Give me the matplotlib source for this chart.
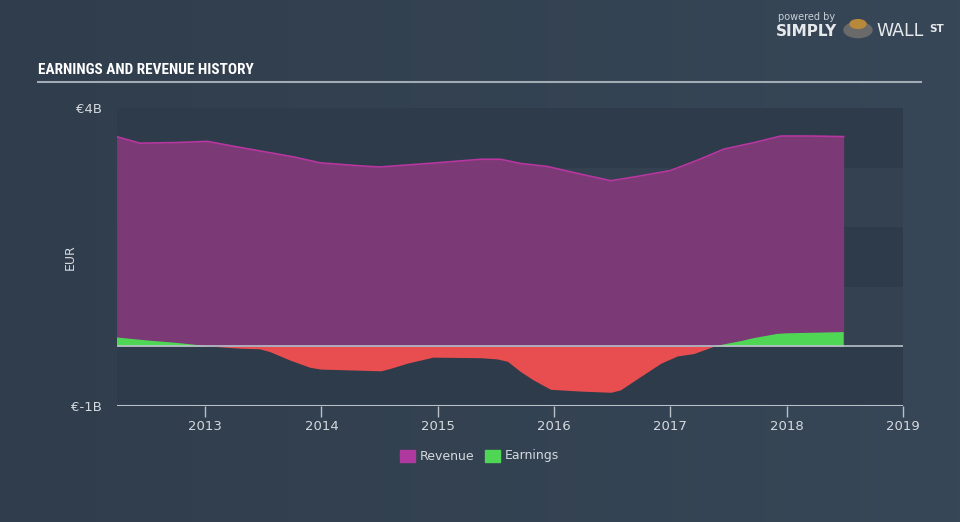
import matplotlib
matplotlib.use("Agg")
import matplotlib.pyplot as plt
import numpy as np
from matplotlib.patches import Rectangle, Circle
from matplotlib.colors import LinearSegmentedColormap
from matplotlib import font_manager

# ---- data (EUR billions) ----
rev_years = [2012.24, 2012.44, 2012.75, 2013.02, 2013.24, 2013.5, 2013.76, 2013.99, 2014.33,
             2014.5, 2014.99, 2015.37, 2015.54, 2015.71, 2015.94, 2016.23, 2016.49, 2016.74,
             2017.0, 2017.24, 2017.46, 2017.72, 2017.95, 2018.2, 2018.49]
revenue = [3.52, 3.41, 3.42, 3.44, 3.36, 3.27, 3.18, 3.08, 3.03,
           3.01, 3.08, 3.14, 3.14, 3.07, 3.02, 2.89, 2.78, 2.86,
           2.95, 3.13, 3.31, 3.42, 3.53, 3.53, 3.52]
earn_years = [2012.24, 2012.5, 2012.75, 2013.0, 2013.3, 2013.47, 2013.56, 2013.73, 2013.9,
              2013.99, 2014.51, 2014.59, 2014.74, 2014.96, 2015.37, 2015.51, 2015.6, 2015.71,
              2015.82, 2015.97, 2016.23, 2016.49, 2016.57, 2016.74, 2016.92, 2017.06, 2017.2,
              2017.37, 2017.61, 2017.72, 2017.92, 2018.0, 2018.49]
earnings = [0.15, 0.10, 0.06, 0.01, -0.03, -0.04, -0.09, -0.23, -0.35,
            -0.38, -0.41, -0.37, -0.28, -0.18, -0.19, -0.21, -0.25, -0.42,
            -0.56, -0.72, -0.75, -0.77, -0.73, -0.51, -0.28, -0.16, -0.12,
            0.0, 0.09, 0.14, 0.21, 0.22, 0.24]
xticks = [2013, 2014, 2015, 2016, 2017, 2018, 2019]
ytick_vals = [4, -1]
ytick_labels = ["€4B", "€-1B"]

REV_FILL = "#7b3a76"
REV_LINE = "#b8369f"
GREEN = "#4fd655"
RED = "#e84e50"
TXT = "#d4d9de"

avail = {f.name for f in font_manager.fontManager.ttflist}
title_family = next((f for f in ["Liberation Sans Narrow", "DejaVu Sans Condensed", "Roboto Condensed"]
                     if f in avail), "DejaVu Sans")

fig = plt.figure(figsize=(9.6, 5.22), dpi=100)
bg = fig.add_axes([0, 0, 1, 1], zorder=-10)
grad = np.linspace(0, 1, 256)[None, :]
cmap = LinearSegmentedColormap.from_list("bg", ["#303d4c", "#374757"])
bg.imshow(grad, aspect="auto", cmap=cmap, extent=[0, 1, 0, 1])
bg.set_axis_off()

ax = fig.add_axes([117/960, 116/522, 786/960, 298/522])
ax.set_xlim(2012.243, 2019.0)
ax.set_ylim(-1, 4)
ax.set_facecolor("none")
for s in ax.spines.values():
    s.set_visible(False)

band_cols = ["#2e3b4a", "#334150", "#2e3b4a", "#334150", "#2e3b4a"]
for i, lo in enumerate([3, 2, 1, 0, -1]):
    ax.axhspan(lo, lo + 1, color=band_cols[i], zorder=0, lw=0)

ry = np.array(rev_years)
rv = np.array(revenue)
ey = np.array(earn_years)
er = np.array(earnings)
ax.fill_between(ry, 0, rv, color=REV_FILL, lw=0, zorder=2)
ax.plot(ry, rv, color=REV_LINE, lw=1.2, zorder=3)
ax.fill_between(ey, 0, er, where=er >= 0, interpolate=True, color=GREEN, lw=0, zorder=4)
ax.fill_between(ey, 0, er, where=er <= 0, interpolate=True, color=RED, lw=0, zorder=4)
ax.axhline(0, color="#b9c0c8", lw=1.2, zorder=5)
ax.axhline(-1, color="#b9c0c8", lw=1.5, zorder=5)

ax.set_xticks(xticks)
ax.set_xticklabels([str(x) for x in xticks])
ax.tick_params(axis="x", colors="#b9c0c8", length=8, width=1, labelcolor=TXT, labelsize=9.5, pad=2)
ax.set_yticks(ytick_vals)
ax.set_yticklabels(ytick_labels)
ax.tick_params(axis="y", length=0, labelcolor=TXT, labelsize=9.5, pad=11)
ax.set_ylabel("EUR", color=TXT, fontsize=9)
ax.yaxis.set_label_coords(-0.051, 0.5)

fig.text(38/960, 1 - 74/522, "EARNINGS AND REVENUE HISTORY", color="white",
         fontsize=11, fontweight="bold", fontstretch="condensed",
         family=title_family, va="baseline", ha="left")
fig.add_artist(plt.Line2D([38/960, 921/960], [1 - 82/522, 1 - 82/522],
                          color="#a3abb4", lw=1.5))

fig.add_artist(Rectangle((400/960, 1 - 462/522), 15/960, 12/522, color="#b0399f", transform=fig.transFigure))
fig.text(420/960, 1 - 456/522, "Revenue", color=TXT, fontsize=9, va="center")
fig.add_artist(Rectangle((485/960, 1 - 462/522), 15/960, 12/522, color=GREEN, transform=fig.transFigure))
fig.text(505/960, 1 - 456/522, "Earnings", color=TXT, fontsize=9, va="center")

fig.text(778/960, 1 - 17/522, "powered by", color="#c8ced4", fontsize=7, va="center")
fig.text(776/960, 1 - 31/522, "SIMPLY", color="#e6e9ec", fontsize=11, fontweight="bold", va="center")
fig.add_artist(Circle((858/960, 1 - 30/522), 14/960, color="#6b6a6a", transform=fig.transFigure))
fig.add_artist(Circle((858/960, 1 - 24/522), 8/960, color="#b8893a", transform=fig.transFigure))
fig.text(876/960, 1 - 31/522, "WALL", color="#e6e9ec", fontsize=12.5, va="center")
fig.text(929/960, 1 - 29/522, "ST", color="#e6e9ec", fontsize=7.5, fontweight="bold", va="center")

fig.savefig("out.png", dpi=100)
